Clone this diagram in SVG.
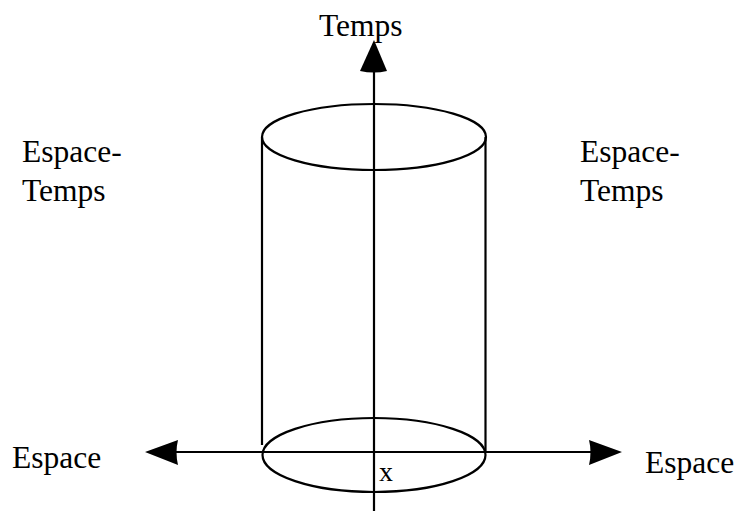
<svg xmlns="http://www.w3.org/2000/svg" width="736" height="511" viewBox="0 0 736 511">
<style>
.ln{stroke:#000;stroke-width:2.2;fill:none}
.ah{fill:#000;stroke:none}
text{font-family:"Liberation Serif","Times New Roman",serif;font-size:31.5px;fill:#000}
</style>
<rect width="736" height="511" fill="#fff"/>
<g id="cylinder">
<ellipse class="ln" cx="374" cy="137" rx="112" ry="33"/>
<ellipse class="ln" cx="374" cy="455" rx="111.5" ry="37"/>
<line class="ln" x1="262" y1="137" x2="262" y2="445"/>
<line class="ln" x1="485.5" y1="137" x2="485.5" y2="453"/>
</g>
<g id="connectors">
<line class="ln" x1="374" y1="66" x2="374" y2="511"/>
<path class="ah" d="M374,40 L387,71 Q374,74 360,71 Z"/>
<line class="ln" x1="170" y1="452" x2="598" y2="452"/>
<path class="ah" d="M145,452 L178,440 Q175,452 178,465 Z"/>
<path class="ah" d="M622,452 L589,440 Q592,452 589,465 Z"/>
</g>
<g id="label-temps"><text x="319" y="36">Temps</text></g>
<g id="label-st-left"><text x="22" y="162">Espace-</text><text x="22" y="201">Temps</text></g>
<g id="label-st-right"><text x="580" y="162">Espace-</text><text x="580" y="201">Temps</text></g>
<g id="label-espace-left"><text x="12" y="468">Espace</text></g>
<g id="label-espace-right"><text x="645" y="473">Espace</text></g>
<g id="label-x"><text x="379" y="481" style="font-size:28px">x</text></g>
</svg>
